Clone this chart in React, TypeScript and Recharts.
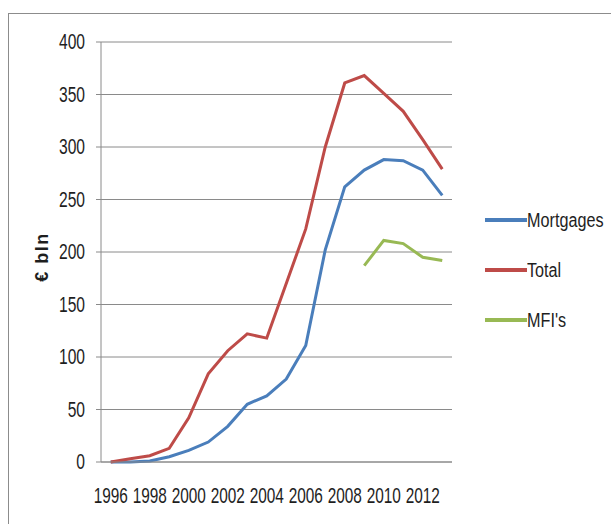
import React from 'react';
import { LineChart, Line, XAxis, YAxis, CartesianGrid } from 'recharts';

const years = ['1996','1997','1998','1999','2000','2001','2002','2003','2004','2005','2006','2007','2008','2009','2010','2011','2012','2013'];
const mortgages = [0, 0, 1, 5, 11, 19, 34, 55, 63, 79, 111, 202, 262, 278, 288, 287, 278, 254];
const total = [0, 3, 6, 13, 42, 84, 106, 122, 118, 170, 222, 300, 361, 368, 351, 334, 307, 279];
const mfis: (number | null)[] = [null, null, null, null, null, null, null, null, null, null, null, null, null, 187, 211, 208, 195, 192];
const yTicks = [0, 50, 100, 150, 200, 250, 300, 350, 400];
const seriesNames = ['Mortgages', 'Total', "MFI's"];
const seriesColors = ['#4A7EBB', '#BE4B48', '#98B954'];

const data = years.map((y, i) => ({ year: y, Mortgages: mortgages[i], Total: total[i], "MFI's": mfis[i] }));

const FONT = "'Liberation Sans', Arial, sans-serif";
const GRID = '#8a8a8a';
const TXT = '#1e1e1e';

const YTick = (props: any) => {
  const { x, y, payload } = props;
  return (
    <text transform={`translate(${x},${y}) scale(0.71,1)`} textAnchor="end" dominantBaseline="central"
      style={{ fontFamily: FONT, fontSize: 22, fill: TXT }}>{payload.value}</text>
  );
};

const XTick = (props: any) => {
  const { x, y, payload } = props;
  return (
    <text transform={`translate(${x},${y + 33}) scale(0.7,1)`} textAnchor="middle" dominantBaseline="central"
      style={{ fontFamily: FONT, fontSize: 22, fill: TXT }}>{payload.value}</text>
  );
};

const YLabel = (props: any) => {
  const vb = props.viewBox || { x: 0, y: 0, width: 0, height: 0 };
  const cx = 42;
  const cy = vb.y + vb.height / 2 + 5;
  return (
    <text x={cx} y={cy} transform={`rotate(-90 ${cx} ${cy})`} textAnchor="middle" dominantBaseline="central"
      style={{ fontFamily: FONT, fontWeight: 'bold', fontSize: 18, letterSpacing: 1.5, fill: TXT }}>
      € bln
    </text>
  );
};

export default function App() {
  return (
    <div style={{ position: 'absolute', left: 0, top: 0, width: 611, height: 524, overflow: 'hidden', background: '#fff' }}>
      <div style={{ position: 'absolute', left: 8, top: 13, width: 700, height: 600, border: '1px solid #8c8c8c' }} />
      <div style={{ position: 'absolute', left: 0, top: 0 }}>
        <LineChart width={611} height={524} data={data} margin={{ top: 42, right: 159, bottom: 22, left: 0 }}>
          <CartesianGrid horizontal vertical={false} stroke={GRID} />
          <XAxis dataKey="year" interval={1} tickSize={0} tickMargin={0} axisLine={{ stroke: GRID }} tickLine={false}
            height={40} tick={<XTick />} padding={{ left: 9.75, right: 9.75 }} />
          <YAxis domain={[0, 400]} ticks={yTicks} width={101} tickSize={5} tickMargin={11}
            axisLine={{ stroke: GRID }} tickLine={{ stroke: GRID }} tick={<YTick />} label={<YLabel />} />
          {seriesNames.map((n, i) => (
            <Line key={n} type="linear" dataKey={n} stroke={seriesColors[i]} strokeWidth={3} dot={false}
              isAnimationActive={false} connectNulls={false} />
          ))}
        </LineChart>
      </div>
      <div style={{ position: 'absolute', left: 485, top: 195, fontFamily: FONT }}>
        {seriesNames.map((n, i) => (
          <div key={n} style={{ display: 'flex', alignItems: 'center', height: 50 }}>
            <div style={{ width: 42, height: 4, background: seriesColors[i] }} />
            <span style={{ fontSize: 20, color: TXT, display: 'inline-block', transform: 'scaleX(0.81)', transformOrigin: 'left center' }}>{n}</span>
          </div>
        ))}
      </div>
    </div>
  );
}
